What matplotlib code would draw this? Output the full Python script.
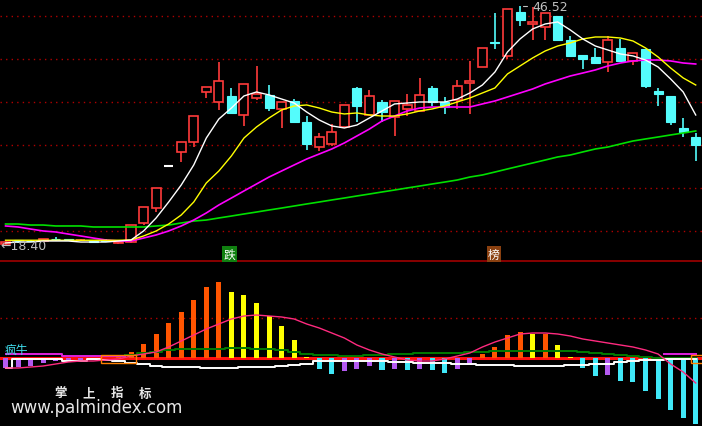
import numpy as np
import matplotlib
matplotlib.use('Agg')
import matplotlib.pyplot as plt
from matplotlib.patches import Rectangle

plt.rcParams['font.family'] = ['DejaVu Sans', 'Noto Sans CJK SC']

# K线 开/高/低/收
opens = [18.55, 18.95, 18.90, 18.90, 19.10, 19.05, 18.95, 18.85, 19.00, 18.60,
         18.74, 20.98, 22.74, 27.69, 29.34, 30.51, 36.40, 35.22, 35.93, 33.69,
         35.69, 36.05, 34.40, 35.34, 32.87, 29.92, 30.28, 32.28, 36.87, 33.69,
         35.22, 33.46, 34.40, 34.16, 36.87, 35.22, 35.46, 37.46, 39.34, 42.28,
         40.64, 45.81, 44.40, 44.05, 45.34, 42.52, 40.75, 40.52, 39.93, 41.58,
         40.05, 41.46, 36.52, 35.93, 32.16, 31.10]
highs = [18.85, 19.00, 18.95, 19.10, 19.30, 19.10, 19.10, 18.90, 19.10, 18.80,
         20.74, 22.86, 25.10, 27.75, 30.51, 33.57, 36.99, 39.93, 36.87, 37.34,
         39.46, 37.22, 35.22, 35.58, 33.57, 31.57, 32.63, 34.87, 36.99, 36.63,
         35.46, 35.34, 36.16, 38.05, 37.10, 35.81, 37.81, 40.05, 41.58, 45.70,
         46.17, 46.52, 46.40, 45.70, 45.34, 42.99, 40.75, 41.58, 42.99, 42.64,
         40.99, 41.46, 36.87, 35.93, 33.34, 31.57]
lows = [18.40, 18.60, 18.80, 18.85, 18.90, 18.85, 18.90, 18.65, 18.80, 18.55,
        18.65, 20.74, 22.27, 27.65, 28.16, 29.92, 35.69, 34.28, 33.93, 32.40,
        35.46, 34.16, 32.16, 32.87, 29.57, 29.45, 30.04, 32.28, 32.87, 33.69,
        32.87, 31.22, 33.57, 34.16, 34.75, 33.81, 34.40, 33.81, 39.34, 41.46,
        40.28, 44.17, 42.52, 42.52, 42.52, 40.64, 39.11, 39.81, 38.75, 40.05,
        39.58, 36.87, 34.75, 32.51, 31.10, 28.28]
closes = [18.75, 18.85, 18.85, 19.05, 19.05, 18.95, 19.00, 18.75, 18.90, 18.75,
          20.74, 22.86, 25.10, 27.69, 30.51, 33.57, 36.99, 37.69, 33.93, 37.34,
          36.16, 34.52, 35.22, 32.87, 30.28, 31.10, 31.69, 34.87, 34.75, 35.93,
          34.04, 35.34, 34.87, 36.05, 35.22, 34.63, 37.10, 37.69, 41.58, 42.17,
          46.17, 44.87, 44.64, 45.70, 42.52, 40.64, 40.28, 39.81, 42.52, 40.05,
          40.99, 37.10, 36.16, 32.87, 31.69, 30.16]

# 均线
ma5 = [18.63, 18.74, 18.74, 18.86, 18.86, 18.86, 18.74, 18.74, 18.74, 18.86,
       18.98, 20.04, 21.57, 23.45, 25.45, 27.81, 30.98, 33.22, 34.51, 35.93,
       36.40, 36.05, 35.57, 35.10, 34.04, 33.10, 32.40, 32.16, 32.51, 33.34,
       34.16, 34.99, 35.10, 35.22, 35.22, 35.22, 35.57, 36.28, 37.22, 38.75,
       41.11, 42.64, 43.81, 44.40, 44.64, 43.70, 42.64, 41.81, 41.34, 40.87,
       40.64, 40.16, 39.34, 37.93, 36.40, 33.69]
ma10 = [18.95, 18.95, 18.95, 18.95, 18.95, 18.95, 18.95, 18.95, 18.95, 18.95,
        18.98, 19.45, 20.04, 20.86, 21.92, 23.45, 25.69, 27.10, 28.87, 30.98,
        32.28, 33.34, 34.28, 34.75, 34.87, 34.51, 34.04, 33.81, 33.93, 33.69,
        33.57, 33.57, 33.81, 34.16, 34.40, 34.75, 35.22, 35.69, 36.28, 36.87,
        38.52, 39.46, 40.40, 41.22, 41.81, 42.17, 42.64, 42.87, 42.87, 42.75,
        42.40, 41.58, 40.52, 39.22, 38.05, 37.22]
ma20 = [20.63, 20.51, 20.27, 20.04, 19.92, 19.68, 19.45, 19.21, 18.98, 18.86,
        18.86, 19.21, 19.57, 20.04, 20.63, 21.33, 22.16, 23.10, 23.92, 24.75,
        25.57, 26.39, 27.10, 27.81, 28.51, 29.10, 29.69, 30.40, 31.22, 32.04,
        32.98, 33.57, 34.16, 34.51, 34.63, 34.63, 34.63, 34.63, 34.99, 35.34,
        35.81, 36.28, 36.75, 37.34, 37.81, 38.28, 38.63, 38.99, 39.46, 39.81,
        40.05, 40.16, 40.16, 40.05, 39.81, 39.69]
ma60 = [20.86, 20.86, 20.74, 20.74, 20.63, 20.63, 20.63, 20.51, 20.51, 20.51,
        20.51, 20.51, 20.63, 20.74, 20.98, 21.21, 21.33, 21.57, 21.80, 22.04,
        22.27, 22.51, 22.74, 22.98, 23.22, 23.45, 23.69, 23.92, 24.16, 24.39,
        24.63, 24.86, 25.10, 25.33, 25.57, 25.80, 26.04, 26.39, 26.63, 26.98,
        27.34, 27.69, 28.04, 28.39, 28.75, 28.98, 29.34, 29.69, 29.92, 30.28,
        30.63, 30.87, 31.10, 31.34, 31.57, 31.81]
price_grid = [45.34, 40.28, 35.22, 30.16, 25.10, 20.04]

# 副图指标
bars = [-0.50, -0.45, -0.40, -0.25, -0.15, -0.12, -0.10, -0.05, 0.0, 0.10,
        0.30, 0.70, 1.20, 1.75, 2.30, 2.90, 3.55, 3.80, 3.30, 3.15,
        2.75, 2.10, 1.60, 0.90, 0.05, -0.55, -0.80, -0.65, -0.55, -0.40,
        -0.60, -0.55, -0.60, -0.55, -0.60, -0.75, -0.55, -0.35, 0.20, 0.55,
        1.15, 1.30, 1.20, 1.20, 0.65, 0.05, -0.50, -0.90, -0.85, -1.15,
        -1.20, -1.65, -2.05, -2.60, -3.00, -3.30]
white_line = [-0.50, -0.05, -0.05, -0.05, -0.05, -0.15, -0.15, -0.05, -0.10, -0.15,
              -0.25, -0.30, -0.40, -0.45, -0.45, -0.45, -0.50, -0.50, -0.50, -0.45,
              -0.45, -0.45, -0.40, -0.35, -0.30, -0.15, -0.15, -0.15, -0.15, -0.15,
              -0.15, -0.20, -0.20, -0.25, -0.25, -0.25, -0.30, -0.30, -0.35, -0.35,
              -0.35, -0.40, -0.40, -0.40, -0.40, -0.35, -0.35, -0.30, -0.30, -0.20,
              -0.15, -0.10, -0.10, -0.05, -0.05, -0.05]
pink_line = [-0.50, -0.50, -0.45, -0.40, -0.30, -0.20, -0.15, -0.15, -0.10, -0.05,
             0.10, 0.20, 0.30, 0.55, 0.85, 1.15, 1.45, 1.70, 1.95, 2.10,
             2.15, 2.10, 2.05, 1.95, 1.70, 1.50, 1.25, 1.00, 0.65, 0.40,
             0.20, 0.05, -0.10, -0.15, -0.15, -0.05, 0.10, 0.25, 0.55, 0.80,
             1.00, 1.20, 1.25, 1.25, 1.20, 1.10, 0.95, 0.85, 0.75, 0.65,
             0.55, 0.40, 0.20, -0.30, -0.70, -1.25]
green_line = [np.nan] * 10 + [
              0.15, 0.25, 0.30, 0.40, 0.45, 0.45, 0.45, 0.45, 0.50, 0.50,
              0.45, 0.45, 0.40, 0.30, 0.20, 0.15, 0.15, 0.10, 0.10, 0.15,
              0.15, 0.20, 0.20, 0.25, 0.25, 0.25, 0.25, 0.30, 0.30, 0.35,
              0.35, 0.35, 0.35, 0.35, 0.35, 0.35, 0.30, 0.25, 0.20, 0.15,
              0.10, 0.05, 0.0, 0.0, 0.0, 0.0]
violet_line = [0.20, 0.20, 0.20, 0.20, 0.20, 0.10, 0.10, 0.10, 0.10, 0.10] + \
              [np.nan] * 43 + [0.20, 0.20, 0.20]
box_spans = [(8, 10), (55, 55.6)]

n = len(closes)
x = np.arange(n)
W, H = 702, 427
fig = plt.figure(figsize=(W / 100, H / 100), dpi=100, facecolor='black')
ax = fig.add_axes([0, 1 - 263 / H, 1, 263 / H], facecolor='black')
ax2 = fig.add_axes([0, 0, 1, 1 - 263 / H], facecolor='black')
for a in (ax, ax2):
    a.set_xlim(-0.44, 55.5)
    a.set_xticks([])
    a.set_yticks([])
    for s in a.spines.values():
        s.set_visible(False)
ax.set_ylim(16.39, 47.34)
ax2.set_ylim(-3.4, 4.8)

for g in price_grid:
    ax.axhline(g, color='#b00000', lw=1, ls=(0, (1, 3)), zorder=1)

up_c, dn_c = '#ff3a3a', '#54fcfc'
w = 0.72
for i in range(n):
    o, h, l, c = opens[i], highs[i], lows[i], closes[i]
    if c > o:
        ax.vlines(i, c, h, color=up_c, lw=1.2, zorder=2)
        ax.vlines(i, l, o, color=up_c, lw=1.2, zorder=2)
        ax.add_patch(Rectangle((i - w / 2, o), w, c - o, facecolor='black',
                               edgecolor=up_c, lw=1.2, zorder=2))
    elif c < o:
        ax.vlines(i, l, h, color=dn_c, lw=1.2, zorder=2)
        ax.add_patch(Rectangle((i - w / 2, c), w, o - c, facecolor=dn_c,
                               edgecolor=dn_c, lw=0.8, zorder=2))
    else:
        ax.vlines(i, l, h, color='white', lw=1.2, zorder=2)
        ax.hlines(c, i - w / 2, i + w / 2, color='white', lw=1.5, zorder=2)

ax.plot(x, ma60, color='#00e000', lw=1.2, zorder=3)
ax.plot(x, ma20, color='#ff00ff', lw=1.2, zorder=3)
ax.plot(x, ma10, color='#ffff00', lw=1.0, zorder=3)
ax.plot(x, ma5, color='white', lw=1.0, zorder=3)

# 最高/最低标注
lo_i = int(np.argmin(lows))
hi_i = int(np.argmax(highs))
ax.text(lo_i - 0.42, lows[lo_i] - 0.1, '\u219018.40', color='#c0c0c0', fontsize=9,
        va='center', ha='left', zorder=5)
ax.annotate('46.52', xy=(hi_i + 0.05, highs[hi_i]), xytext=(hi_i + 1.0, highs[hi_i] - 0.05),
            color='#c0c0c0', fontsize=9, va='center', ha='left',
            arrowprops=dict(arrowstyle='-', color='#c0c0c0', lw=0.8,
                            connectionstyle='angle,angleA=0,angleB=90,rad=0'))

ax.axhline(16.39 + 0.06, color='#a00000', lw=1.2)
ax.text(17.85, 17.33, '跌', color='white', fontsize=8.5, ha='center', va='center',
        family=['Noto Sans CJK SC'],
        bbox=dict(boxstyle='square,pad=0.1', facecolor='#108010', edgecolor='none'))
ax.text(38.9, 17.33, '榜', color='white', fontsize=8.5, ha='center', va='center',
        family=['Noto Sans CJK SC'],
        bbox=dict(boxstyle='square,pad=0.1', facecolor='#8a4010', edgecolor='none'))

# 副图
ax2.axhline(2.0, color='#b00000', lw=1, ls=(0, (1, 3)), zorder=1)
ax2.axhline(0, color='#ff1010', lw=2.2, zorder=2)
cols = []
for i, v in enumerate(bars):
    prev = bars[i - 1] if i > 0 else v - 0.05
    if v >= 0:
        cols.append('#ff5500' if v >= prev else '#ffff00')
    else:
        cols.append('#40e8f8' if v < prev else '#b45af0')
ax2.bar(x, bars, width=0.4, color=cols, zorder=3)
ax2.plot(x, green_line, color='#007a00', lw=1.4, drawstyle='steps-mid', zorder=4)
ax2.plot(x, violet_line, color='#e020e0', lw=1.4, drawstyle='steps-mid', zorder=4)
ax2.plot(x, white_line, color='white', lw=1.4, drawstyle='steps-mid', zorder=4)
ax2.plot(x, pink_line, color='#ff2a7f', lw=1.0, zorder=4)
for a0, a1 in box_spans:
    ax2.add_patch(Rectangle((a0 - 0.4, -0.25), a1 - a0 + 0.8, 0.4, fill=False,
                            edgecolor='#ff8000', lw=1, zorder=4))
ax2.text(-0.1, 0.45, '疯牛', color='#40e0f0', fontsize=8.5, ha='left', va='center',
         family=['Noto Sans CJK SC'], zorder=5)

for k, ch in enumerate('掌上指标'):
    fig.text((61 + k * 28) / W, 1 - 394 / H, ch, color='#e8e8e8', fontsize=9,
             fontweight='bold', ha='center', va='center', family=['Noto Sans CJK SC'])
fig.text(10 / W, 1 - 408 / H, 'www.palmindex.com', color='#e8e8e8', fontsize=12,
         ha='left', va='center')

fig.savefig('out.png', dpi=100, facecolor='black')
